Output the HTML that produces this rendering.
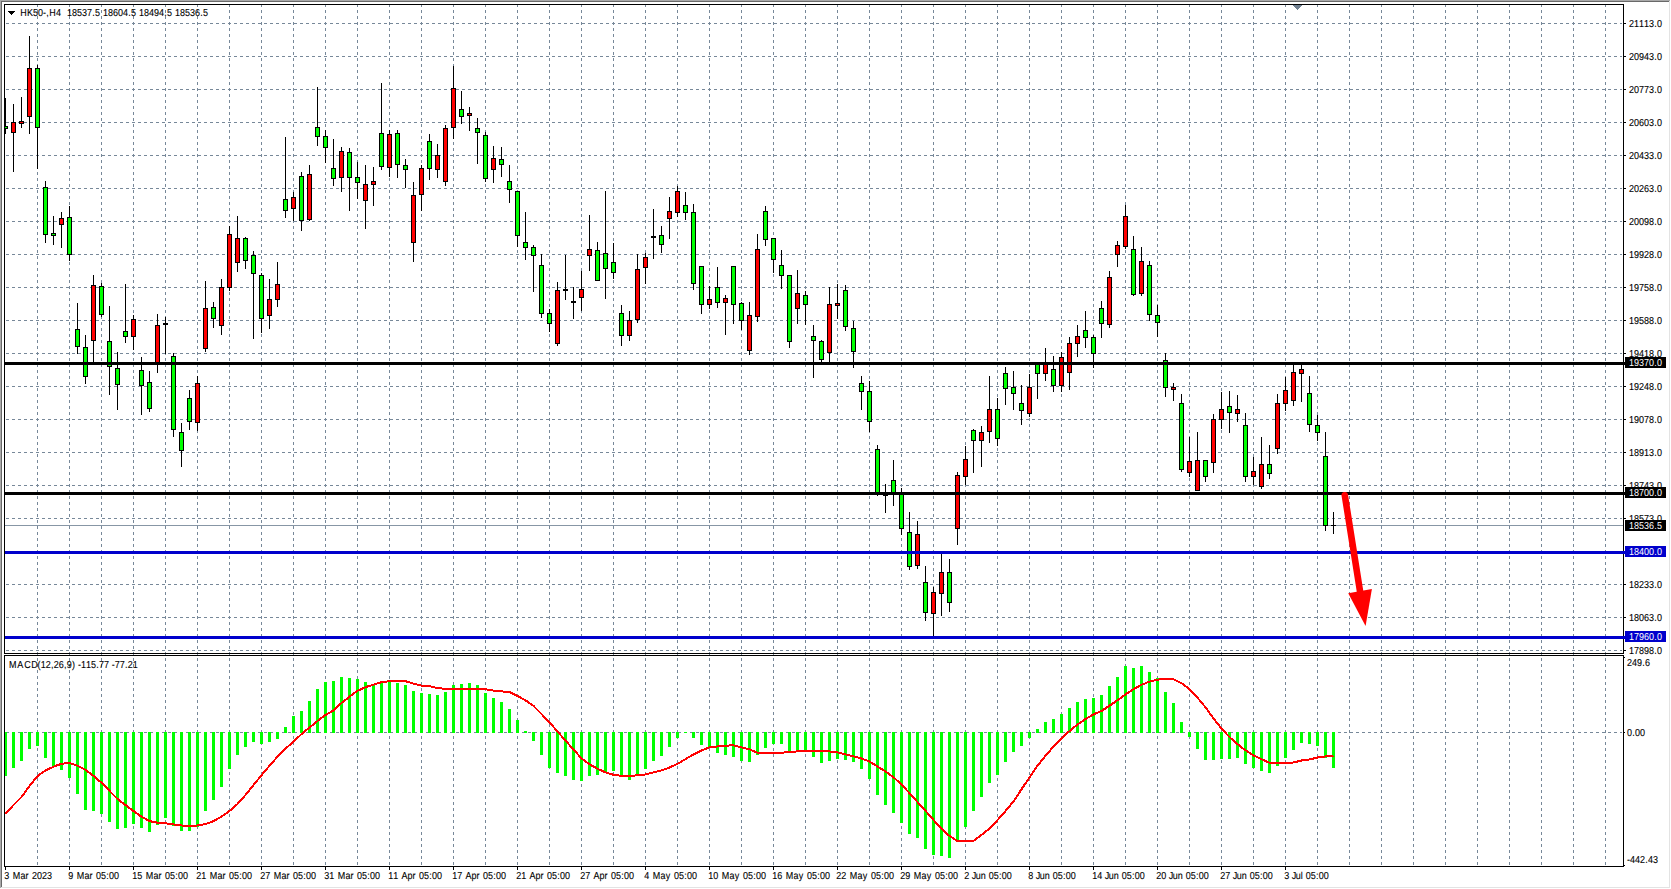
<!DOCTYPE html><html><head><meta charset="utf-8"><title>HK50 H4</title>
<style>html,body{margin:0;padding:0;background:#fff;overflow:hidden}svg{display:block}text{font-family:"Liberation Sans",sans-serif;font-size:9.0px;fill:#000;stroke:#000;stroke-width:0.1px;text-rendering:geometricPrecision}</style></head><body>
<svg width="1671" height="889" viewBox="0 0 1671 889">
<rect width="1671" height="889" fill="#fff"/>
<defs><clipPath id="cm"><rect x="5" y="5" width="1617" height="648"/></clipPath>
<clipPath id="cd"><rect x="5" y="656" width="1617" height="210"/></clipPath></defs>
<g shape-rendering="crispEdges" stroke="#778899" stroke-width="1" stroke-dasharray="3 3" fill="none">
<g clip-path="url(#cm)">
<line x1="0" y1="23.5" x2="1623" y2="23.5"/>
<line x1="0" y1="56.5" x2="1623" y2="56.5"/>
<line x1="0" y1="89.5" x2="1623" y2="89.5"/>
<line x1="0" y1="122.5" x2="1623" y2="122.5"/>
<line x1="0" y1="155.5" x2="1623" y2="155.5"/>
<line x1="0" y1="188.5" x2="1623" y2="188.5"/>
<line x1="0" y1="221.5" x2="1623" y2="221.5"/>
<line x1="0" y1="254.5" x2="1623" y2="254.5"/>
<line x1="0" y1="287.5" x2="1623" y2="287.5"/>
<line x1="0" y1="320.5" x2="1623" y2="320.5"/>
<line x1="0" y1="353.5" x2="1623" y2="353.5"/>
<line x1="0" y1="386.5" x2="1623" y2="386.5"/>
<line x1="0" y1="419.5" x2="1623" y2="419.5"/>
<line x1="0" y1="452.5" x2="1623" y2="452.5"/>
<line x1="0" y1="485.5" x2="1623" y2="485.5"/>
<line x1="0" y1="518.5" x2="1623" y2="518.5"/>
<line x1="0" y1="551.5" x2="1623" y2="551.5"/>
<line x1="0" y1="584.5" x2="1623" y2="584.5"/>
<line x1="0" y1="617.5" x2="1623" y2="617.5"/>
<line x1="0" y1="650.5" x2="1623" y2="650.5"/>
</g>
<path d="M37.5 4V866M69.5 4V866M101.5 4V866M133.5 4V866M165.5 4V866M197.5 4V866M229.5 4V866M261.5 4V866M293.5 4V866M325.5 4V866M357.5 4V866M389.5 4V866M421.5 4V866M453.5 4V866M485.5 4V866M517.5 4V866M549.5 4V866M581.5 4V866M613.5 4V866M645.5 4V866M677.5 4V866M709.5 4V866M741.5 4V866M773.5 4V866M805.5 4V866M837.5 4V866M869.5 4V866M901.5 4V866M933.5 4V866M965.5 4V866M997.5 4V866M1029.5 4V866M1061.5 4V866M1093.5 4V866M1125.5 4V866M1157.5 4V866M1189.5 4V866M1221.5 4V866M1253.5 4V866M1285.5 4V866M1317.5 4V866M1349.5 4V866M1381.5 4V866M1413.5 4V866M1445.5 4V866M1477.5 4V866M1509.5 4V866M1541.5 4V866M1573.5 4V866M1605.5 4V866"/>
<line x1="0" y1="732.5" x2="1623" y2="732.5" clip-path="url(#cd)"/>
</g>
<rect x="5" y="525" width="1618" height="1" fill="#8796a5" shape-rendering="crispEdges"/>
<g clip-path="url(#cm)" shape-rendering="crispEdges">
<path d="M5 98h1v36h-1zM3 126h5v3h-5zM13 104h1v68h-1zM11 122h5v11h-5zM21 97h1v31h-1zM19 121h5v3h-5zM29 36h1v98h-1zM27 68h5v49h-5zM37 65h1v104h-1zM35 68h5v60h-5zM45 181h1v62h-1zM43 187h5v48h-5zM53 216h1v29h-1zM51 233h5v3h-5zM61 212h1v36h-1zM59 218h5v7h-5zM69 206h1v55h-1zM67 217h5v38h-5zM77 303h1v51h-1zM75 329h5v18h-5zM85 335h1v49h-1zM83 347h5v30h-5zM93 275h1v89h-1zM91 285h5v56h-5zM101 283h1v34h-1zM99 286h5v29h-5zM109 306h1v89h-1zM107 341h5v26h-5zM117 352h1v58h-1zM115 368h5v17h-5zM125 284h1v59h-1zM123 331h5v6h-5zM133 315h1v35h-1zM131 319h5v18h-5zM141 357h1v58h-1zM139 370h5v16h-5zM149 371h1v41h-1zM147 382h5v27h-5zM157 314h1v59h-1zM155 325h5v40h-5zM165 317h1v37h-1zM163 323h5v2h-5zM173 353h1v84h-1zM171 356h5v74h-5zM181 423h1v44h-1zM179 432h5v19h-5zM189 390h1v40h-1zM187 398h5v24h-5zM197 376h1v55h-1zM195 383h5v40h-5zM205 281h1v71h-1zM203 308h5v41h-5zM213 302h1v26h-1zM211 307h5v12h-5zM221 279h1v56h-1zM219 287h5v39h-5zM229 226h1v65h-1zM227 234h5v54h-5zM237 216h1v56h-1zM235 238h5v25h-5zM245 237h1v32h-1zM243 238h5v23h-5zM253 251h1v88h-1zM251 255h5v19h-5zM261 273h1v60h-1zM259 275h5v44h-5zM269 279h1v50h-1zM267 299h5v17h-5zM277 262h1v45h-1zM275 284h5v16h-5zM285 137h1v81h-1zM283 199h5v12h-5zM293 192h1v29h-1zM291 197h5v12h-5zM301 172h1v59h-1zM299 176h5v45h-5zM309 165h1v56h-1zM307 174h5v46h-5zM317 87h1v59h-1zM315 127h5v10h-5zM325 130h1v33h-1zM323 136h5v12h-5zM333 139h1v47h-1zM331 168h5v11h-5zM341 147h1v45h-1zM339 151h5v27h-5zM349 148h1v63h-1zM347 152h5v26h-5zM357 162h1v37h-1zM355 177h5v6h-5zM365 165h1v64h-1zM363 184h5v17h-5zM373 167h1v39h-1zM371 181h5v4h-5zM381 83h1v87h-1zM379 133h5v34h-5zM389 130h1v47h-1zM387 134h5v34h-5zM397 130h1v48h-1zM395 133h5v32h-5zM405 159h1v29h-1zM403 165h5v5h-5zM413 182h1v80h-1zM411 195h5v48h-5zM421 165h1v46h-1zM419 168h5v27h-5zM429 134h1v46h-1zM427 141h5v28h-5zM437 144h1v34h-1zM435 155h5v15h-5zM445 125h1v61h-1zM443 128h5v54h-5zM453 66h1v73h-1zM451 88h5v40h-5zM461 91h1v33h-1zM459 109h5v8h-5zM469 107h1v24h-1zM467 113h5v3h-5zM477 118h1v46h-1zM475 128h5v5h-5zM485 132h1v50h-1zM483 135h5v44h-5zM493 146h1v37h-1zM491 158h5v12h-5zM501 147h1v30h-1zM499 159h5v6h-5zM509 165h1v38h-1zM507 181h5v9h-5zM517 191h1v56h-1zM515 191h5v45h-5zM525 212h1v48h-1zM523 242h5v6h-5zM533 245h1v47h-1zM531 247h5v9h-5zM541 254h1v64h-1zM539 265h5v49h-5zM549 309h1v23h-1zM547 313h5v11h-5zM557 282h1v64h-1zM555 290h5v54h-5zM565 255h1v45h-1zM563 289h5v2h-5zM573 287h1v32h-1zM571 301h5v2h-5zM581 271h1v40h-1zM579 289h5v9h-5zM589 215h1v56h-1zM587 249h5v7h-5zM597 242h1v39h-1zM595 250h5v31h-5zM605 191h1v108h-1zM603 253h5v16h-5zM613 243h1v36h-1zM611 262h5v11h-5zM621 305h1v41h-1zM619 313h5v23h-5zM629 311h1v30h-1zM627 320h5v16h-5zM637 254h1v69h-1zM635 269h5v51h-5zM645 253h1v31h-1zM643 257h5v11h-5zM653 209h1v50h-1zM651 236h5v2h-5zM661 226h1v27h-1zM659 235h5v10h-5zM669 197h1v42h-1zM667 211h5v8h-5zM677 186h1v31h-1zM675 191h5v22h-5zM685 192h1v28h-1zM683 205h5v8h-5zM693 204h1v86h-1zM691 212h5v72h-5zM701 266h1v48h-1zM699 266h5v39h-5zM709 286h1v23h-1zM707 299h5v6h-5zM717 267h1v41h-1zM715 287h5v16h-5zM725 295h1v40h-1zM723 298h5v5h-5zM733 266h1v58h-1zM731 266h5v39h-5zM741 302h1v28h-1zM739 303h5v18h-5zM749 302h1v53h-1zM747 315h5v36h-5zM757 234h1v88h-1zM755 249h5v68h-5zM765 206h1v40h-1zM763 211h5v29h-5zM773 238h1v35h-1zM771 238h5v22h-5zM781 250h1v39h-1zM779 265h5v11h-5zM789 275h1v73h-1zM787 275h5v67h-5zM797 270h1v54h-1zM795 293h5v16h-5zM805 291h1v34h-1zM803 295h5v10h-5zM813 325h1v53h-1zM811 336h5v5h-5zM821 340h1v23h-1zM819 341h5v19h-5zM829 287h1v76h-1zM827 304h5v49h-5zM837 284h1v35h-1zM835 303h5v3h-5zM845 285h1v46h-1zM843 290h5v37h-5zM853 321h1v47h-1zM851 328h5v24h-5zM861 376h1v34h-1zM859 383h5v9h-5zM869 381h1v51h-1zM867 391h5v31h-5zM877 445h1v51h-1zM875 449h5v45h-5zM885 484h1v29h-1zM883 494h5v2h-5zM893 460h1v46h-1zM891 480h5v14h-5zM901 488h1v47h-1zM899 492h5v37h-5zM909 512h1v58h-1zM907 532h5v35h-5zM917 521h1v48h-1zM915 534h5v32h-5zM925 566h1v55h-1zM923 582h5v31h-5zM933 587h1v50h-1zM931 592h5v22h-5zM941 552h1v64h-1zM939 572h5v22h-5zM949 559h1v53h-1zM947 572h5v31h-5zM957 472h1v73h-1zM955 475h5v54h-5zM965 446h1v39h-1zM963 459h5v18h-5zM973 429h1v44h-1zM971 430h5v11h-5zM981 426h1v41h-1zM979 432h5v9h-5zM989 376h1v67h-1zM987 409h5v23h-5zM997 398h1v48h-1zM995 409h5v30h-5zM1005 367h1v38h-1zM1003 373h5v16h-5zM1013 371h1v39h-1zM1011 387h5v7h-5zM1021 385h1v40h-1zM1019 403h5v8h-5zM1029 374h1v43h-1zM1027 387h5v27h-5zM1037 362h1v37h-1zM1035 362h5v12h-5zM1045 348h1v33h-1zM1043 364h5v10h-5zM1053 356h1v36h-1zM1051 369h5v17h-5zM1061 352h1v40h-1zM1059 357h5v29h-5zM1069 337h1v53h-1zM1067 343h5v30h-5zM1077 325h1v32h-1zM1075 336h5v8h-5zM1085 311h1v37h-1zM1083 330h5v8h-5zM1093 335h1v33h-1zM1091 337h5v17h-5zM1101 301h1v37h-1zM1099 308h5v16h-5zM1109 271h1v57h-1zM1107 277h5v48h-5zM1117 241h1v26h-1zM1115 245h5v10h-5zM1125 205h1v44h-1zM1123 216h5v31h-5zM1133 236h1v60h-1zM1131 249h5v46h-5zM1141 247h1v49h-1zM1139 261h5v33h-5zM1149 261h1v60h-1zM1147 265h5v50h-5zM1157 305h1v32h-1zM1155 315h5v8h-5zM1165 353h1v44h-1zM1163 360h5v28h-5zM1173 383h1v18h-1zM1171 387h5v3h-5zM1181 394h1v78h-1zM1179 403h5v67h-5zM1189 437h1v40h-1zM1187 461h5v12h-5zM1197 432h1v59h-1zM1195 460h5v31h-5zM1205 460h1v22h-1zM1203 460h5v17h-5zM1213 414h1v59h-1zM1211 419h5v44h-5zM1221 392h1v37h-1zM1219 409h5v11h-5zM1229 391h1v42h-1zM1227 406h5v7h-5zM1237 395h1v27h-1zM1235 409h5v5h-5zM1245 413h1v69h-1zM1243 425h5v52h-5zM1253 457h1v28h-1zM1251 471h5v6h-5zM1261 437h1v52h-1zM1259 464h5v23h-5zM1269 445h1v34h-1zM1267 464h5v10h-5zM1277 394h1v60h-1zM1275 403h5v46h-5zM1285 377h1v34h-1zM1283 390h5v14h-5zM1293 365h1v41h-1zM1291 372h5v29h-5zM1301 365h1v37h-1zM1299 369h5v5h-5zM1309 376h1v56h-1zM1307 393h5v32h-5zM1317 415h1v26h-1zM1315 425h5v8h-5zM1325 432h1v99h-1zM1323 456h5v70h-5zM1333 512h1v22h-1zM1331 525h5v1h-5z" fill="#000"/>
<path d="M4 127h3v1h-3zM36 69h3v58h-3zM44 188h3v46h-3zM52 234h3v1h-3zM68 218h3v36h-3zM76 330h3v16h-3zM84 348h3v28h-3zM100 287h3v27h-3zM108 342h3v24h-3zM116 369h3v15h-3zM124 332h3v4h-3zM140 371h3v14h-3zM148 383h3v25h-3zM172 357h3v72h-3zM180 433h3v17h-3zM188 399h3v22h-3zM212 308h3v10h-3zM244 239h3v21h-3zM252 256h3v17h-3zM260 276h3v42h-3zM284 200h3v10h-3zM300 177h3v43h-3zM316 128h3v8h-3zM324 137h3v10h-3zM332 169h3v9h-3zM348 153h3v24h-3zM356 178h3v4h-3zM380 134h3v32h-3zM396 134h3v30h-3zM404 166h3v3h-3zM428 142h3v26h-3zM460 110h3v6h-3zM476 129h3v3h-3zM484 136h3v42h-3zM500 160h3v4h-3zM508 182h3v7h-3zM516 192h3v43h-3zM524 243h3v4h-3zM532 248h3v7h-3zM540 266h3v47h-3zM548 314h3v9h-3zM596 251h3v29h-3zM604 254h3v14h-3zM612 263h3v9h-3zM620 314h3v21h-3zM660 236h3v8h-3zM684 206h3v6h-3zM692 213h3v70h-3zM700 267h3v37h-3zM716 288h3v14h-3zM732 267h3v37h-3zM740 304h3v16h-3zM764 212h3v27h-3zM772 239h3v20h-3zM780 266h3v9h-3zM788 276h3v65h-3zM804 296h3v8h-3zM812 337h3v3h-3zM820 342h3v17h-3zM844 291h3v35h-3zM852 329h3v22h-3zM860 384h3v7h-3zM868 392h3v29h-3zM876 450h3v43h-3zM892 481h3v12h-3zM900 493h3v35h-3zM908 533h3v33h-3zM924 583h3v29h-3zM948 573h3v29h-3zM972 431h3v9h-3zM996 410h3v28h-3zM1004 374h3v14h-3zM1012 388h3v5h-3zM1020 404h3v6h-3zM1036 363h3v10h-3zM1052 370h3v15h-3zM1084 331h3v6h-3zM1092 338h3v15h-3zM1100 309h3v14h-3zM1132 250h3v44h-3zM1148 266h3v48h-3zM1156 316h3v6h-3zM1164 361h3v26h-3zM1180 404h3v65h-3zM1204 461h3v15h-3zM1228 407h3v5h-3zM1244 426h3v50h-3zM1268 465h3v8h-3zM1308 394h3v30h-3zM1316 426h3v6h-3zM1324 457h3v68h-3z" fill="#00ff00"/>
<path d="M12 123h3v9h-3zM20 122h3v1h-3zM28 69h3v47h-3zM60 219h3v5h-3zM92 286h3v54h-3zM132 320h3v16h-3zM156 326h3v38h-3zM196 384h3v38h-3zM204 309h3v39h-3zM220 288h3v37h-3zM228 235h3v52h-3zM236 239h3v23h-3zM268 300h3v15h-3zM276 285h3v14h-3zM292 198h3v10h-3zM308 175h3v44h-3zM340 152h3v25h-3zM364 185h3v15h-3zM372 182h3v2h-3zM388 135h3v32h-3zM412 196h3v46h-3zM420 169h3v25h-3zM436 156h3v13h-3zM444 129h3v52h-3zM452 89h3v38h-3zM468 114h3v1h-3zM492 159h3v10h-3zM556 291h3v52h-3zM580 290h3v7h-3zM588 250h3v5h-3zM628 321h3v14h-3zM636 270h3v49h-3zM644 258h3v9h-3zM668 212h3v6h-3zM676 192h3v20h-3zM708 300h3v4h-3zM724 299h3v3h-3zM748 316h3v34h-3zM756 250h3v66h-3zM796 294h3v14h-3zM828 305h3v47h-3zM836 304h3v1h-3zM916 535h3v30h-3zM932 593h3v20h-3zM940 573h3v20h-3zM956 476h3v52h-3zM964 460h3v16h-3zM980 433h3v7h-3zM988 410h3v21h-3zM1028 388h3v25h-3zM1044 365h3v8h-3zM1060 358h3v27h-3zM1068 344h3v28h-3zM1076 337h3v6h-3zM1108 278h3v46h-3zM1116 246h3v8h-3zM1124 217h3v29h-3zM1140 262h3v31h-3zM1172 388h3v1h-3zM1188 462h3v10h-3zM1196 461h3v29h-3zM1212 420h3v42h-3zM1220 410h3v9h-3zM1236 410h3v3h-3zM1252 472h3v4h-3zM1260 465h3v21h-3zM1276 404h3v44h-3zM1284 391h3v12h-3zM1292 373h3v27h-3zM1300 370h3v3h-3z" fill="#ff0000"/>
</g>
<g shape-rendering="crispEdges">
<rect x="5" y="362" width="1620" height="3" fill="#000"/>
<rect x="5" y="492" width="1620" height="3" fill="#000"/>
<rect x="5" y="551" width="1620" height="3" fill="#0000cc"/>
<rect x="5" y="636" width="1620" height="3" fill="#0000cc"/>
</g>
<g clip-path="url(#cd)">
<path d="M4 732h3v44h-3zM12 732h3v36h-3zM20 732h3v29h-3zM28 732h3v17h-3zM36 732h3v14h-3zM44 732h3v26h-3zM52 732h3v34h-3zM60 732h3v38h-3zM68 732h3v46h-3zM76 732h3v62h-3zM84 732h3v78h-3zM92 732h3v79h-3zM100 732h3v82h-3zM108 732h3v90h-3zM116 732h3v97h-3zM124 732h3v96h-3zM132 732h3v92h-3zM140 732h3v96h-3zM148 732h3v100h-3zM156 732h3v93h-3zM164 732h3v86h-3zM172 732h3v94h-3zM180 732h3v99h-3zM188 732h3v99h-3zM196 732h3v95h-3zM204 732h3v79h-3zM212 732h3v68h-3zM220 732h3v55h-3zM228 732h3v37h-3zM236 732h3v23h-3zM244 732h3v15h-3zM252 732h3v10h-3zM260 732h3v12h-3zM268 732h3v10h-3zM276 732h3v7h-3zM284 727h3v6h-3zM292 716h3v17h-3zM300 711h3v22h-3zM308 701h3v32h-3zM316 689h3v44h-3zM324 682h3v51h-3zM332 681h3v52h-3zM340 677h3v56h-3zM348 678h3v55h-3zM356 679h3v54h-3zM364 682h3v51h-3zM372 685h3v48h-3zM380 683h3v50h-3zM388 682h3v51h-3zM396 683h3v50h-3zM404 685h3v48h-3zM412 691h3v42h-3zM420 693h3v40h-3zM428 694h3v39h-3zM436 695h3v38h-3zM444 692h3v41h-3zM452 685h3v48h-3zM460 684h3v49h-3zM468 683h3v50h-3zM476 685h3v48h-3zM484 693h3v40h-3zM492 698h3v35h-3zM500 702h3v31h-3zM508 709h3v24h-3zM516 720h3v13h-3zM524 731h3v2h-3zM532 732h3v9h-3zM540 732h3v23h-3zM548 732h3v36h-3zM556 732h3v41h-3zM564 732h3v44h-3zM572 732h3v48h-3zM580 732h3v49h-3zM588 732h3v44h-3zM596 732h3v43h-3zM604 732h3v40h-3zM612 732h3v39h-3zM620 732h3v45h-3zM628 732h3v48h-3zM636 732h3v42h-3zM644 732h3v37h-3zM652 732h3v29h-3zM660 732h3v24h-3zM668 732h3v15h-3zM676 732h3v6h-3zM684 732h3v1h-3zM692 732h3v6h-3zM700 732h3v13h-3zM708 732h3v15h-3zM716 732h3v21h-3zM724 732h3v23h-3zM732 732h3v25h-3zM740 732h3v29h-3zM748 732h3v30h-3zM756 732h3v23h-3zM764 732h3v16h-3zM772 732h3v12h-3zM780 732h3v12h-3zM788 732h3v20h-3zM796 732h3v20h-3zM804 732h3v19h-3zM812 732h3v25h-3zM820 732h3v31h-3zM828 732h3v29h-3zM836 732h3v27h-3zM844 732h3v28h-3zM852 732h3v30h-3zM860 732h3v37h-3zM868 732h3v47h-3zM876 732h3v63h-3zM884 732h3v73h-3zM892 732h3v81h-3zM900 732h3v91h-3zM908 732h3v102h-3zM916 732h3v106h-3zM924 732h3v117h-3zM932 732h3v123h-3zM940 732h3v124h-3zM948 732h3v126h-3zM956 732h3v110h-3zM964 732h3v95h-3zM972 732h3v79h-3zM980 732h3v65h-3zM988 732h3v51h-3zM996 732h3v43h-3zM1004 732h3v30h-3zM1012 732h3v20h-3zM1020 732h3v14h-3zM1028 732h3v6h-3zM1036 729h3v4h-3zM1044 722h3v11h-3zM1052 719h3v14h-3zM1060 714h3v19h-3zM1068 708h3v25h-3zM1076 702h3v31h-3zM1084 699h3v34h-3zM1092 698h3v35h-3zM1100 695h3v38h-3zM1108 686h3v47h-3zM1116 677h3v56h-3zM1124 666h3v67h-3zM1132 668h3v65h-3zM1140 666h3v67h-3zM1148 672h3v61h-3zM1156 678h3v55h-3zM1164 692h3v41h-3zM1172 703h3v30h-3zM1180 722h3v11h-3zM1188 732h3v5h-3zM1196 732h3v17h-3zM1204 732h3v28h-3zM1212 732h3v28h-3zM1220 732h3v27h-3zM1228 732h3v27h-3zM1236 732h3v26h-3zM1244 732h3v32h-3zM1252 732h3v36h-3zM1260 732h3v39h-3zM1268 732h3v41h-3zM1276 732h3v34h-3zM1284 732h3v26h-3zM1292 732h3v18h-3zM1300 732h3v11h-3zM1308 732h3v12h-3zM1316 732h3v14h-3zM1324 732h3v26h-3zM1332 732h3v36h-3z" fill="#00ff00" shape-rendering="crispEdges"/>
<polyline points="5.5,814 13.5,805 21.5,797 29.5,786 37.5,776 45.5,770.4 53.5,766.7 61.5,763.7 69.5,763.1 77.5,765.7 85.5,769.8 93.5,775.8 101.5,782.8 109.5,790.9 117.5,799 125.5,805 133.5,811 141.5,816.7 149.5,821.1 157.5,822.7 165.5,823.3 173.5,824.5 181.5,825.5 189.5,825.7 197.5,825.5 205.5,824.1 213.5,821.1 221.5,816.7 229.5,811 237.5,804 245.5,795 253.5,785 261.5,775.2 269.5,765.7 277.5,756.7 285.5,748.6 293.5,741.6 301.5,734.1 309.5,727.5 317.5,721 325.5,715 333.5,710.5 341.5,703 349.5,696.7 357.5,690.8 365.5,687.2 373.5,684.6 381.5,682.2 389.5,681.2 397.5,680.8 405.5,681.2 413.5,683.6 421.5,685.6 429.5,686.2 437.5,688.2 445.5,688.8 453.5,688.8 461.5,688.8 469.5,688.8 477.5,688.8 485.5,689.2 493.5,690.6 501.5,691.4 509.5,692 517.5,695.9 525.5,700.3 533.5,705.9 541.5,714 549.5,722.4 557.5,731.5 565.5,740.6 573.5,749.6 581.5,758.3 589.5,764.3 597.5,768.7 605.5,772.4 613.5,774.8 621.5,775.8 629.5,775.8 637.5,775.4 645.5,774.4 653.5,772.4 661.5,770.4 669.5,767.5 677.5,763.9 685.5,759.1 693.5,754.4 701.5,750.4 709.5,747.4 717.5,746.4 725.5,745.6 733.5,745.4 741.5,747.4 749.5,749.4 757.5,752.8 765.5,753 773.5,753 781.5,752.8 789.5,752 797.5,751.4 805.5,750.8 813.5,750.8 821.5,750.8 829.5,751.4 837.5,752.4 845.5,754.4 853.5,756.4 861.5,758.5 869.5,761.5 877.5,766.5 885.5,771.5 893.5,777.2 901.5,784.6 909.5,793.1 917.5,802.1 925.5,810.8 933.5,819.9 941.5,828.9 949.5,836 957.5,841 965.5,841 973.5,840.8 981.5,835 989.5,828.5 997.5,820.1 1005.5,811 1013.5,801.4 1021.5,789.3 1029.5,777.4 1037.5,765.7 1045.5,755.7 1053.5,746.6 1061.5,738.1 1069.5,731.1 1077.5,724.5 1085.5,719 1093.5,714.4 1101.5,711 1109.5,705.7 1117.5,700.3 1125.5,694.3 1133.5,689.2 1141.5,684.8 1149.5,681.6 1157.5,679.6 1165.5,679.2 1173.5,679.2 1181.5,683.2 1189.5,689.2 1197.5,697.7 1205.5,707.3 1213.5,718.4 1221.5,728.5 1229.5,737.1 1237.5,744.2 1245.5,750.3 1253.5,755.4 1261.5,759.3 1269.5,762.7 1277.5,763 1285.5,763 1293.5,762.5 1301.5,760.5 1309.5,759.5 1317.5,757.5 1325.5,756.5 1333.5,755.8" fill="none" stroke="#ff0000" stroke-width="2" stroke-linejoin="round" shape-rendering="crispEdges"/>
</g>
<g shape-rendering="crispEdges" fill="#000">
<rect x="4" y="4" width="1620" height="1"/>
<rect x="4" y="4" width="1" height="863"/>
<rect x="1623" y="4" width="1" height="863"/>
<rect x="4" y="866" width="1620" height="1"/>
<rect x="4" y="653" width="1620" height="1"/>
<rect x="4" y="655" width="1620" height="1"/>
<rect x="4" y="654" width="1" height="1" fill="#fff"/>
<rect x="1623" y="654" width="1" height="1" fill="#fff"/>
<rect x="1624" y="23" width="2" height="1"/>
<rect x="1624" y="56" width="2" height="1"/>
<rect x="1624" y="89" width="2" height="1"/>
<rect x="1624" y="122" width="2" height="1"/>
<rect x="1624" y="155" width="2" height="1"/>
<rect x="1624" y="188" width="2" height="1"/>
<rect x="1624" y="221" width="2" height="1"/>
<rect x="1624" y="254" width="2" height="1"/>
<rect x="1624" y="287" width="2" height="1"/>
<rect x="1624" y="320" width="2" height="1"/>
<rect x="1624" y="353" width="2" height="1"/>
<rect x="1624" y="386" width="2" height="1"/>
<rect x="1624" y="419" width="2" height="1"/>
<rect x="1624" y="452" width="2" height="1"/>
<rect x="1624" y="485" width="2" height="1"/>
<rect x="1624" y="518" width="2" height="1"/>
<rect x="1624" y="551" width="2" height="1"/>
<rect x="1624" y="584" width="2" height="1"/>
<rect x="1624" y="617" width="2" height="1"/>
<rect x="1624" y="650" width="2" height="1"/>
<rect x="1624" y="732" width="1" height="1"/>
<rect x="1624" y="657" width="1" height="1"/>
<rect x="1624" y="865" width="1" height="1"/>
<rect x="5" y="867" width="1" height="3"/>
<rect x="69" y="867" width="1" height="3"/>
<rect x="133" y="867" width="1" height="3"/>
<rect x="197" y="867" width="1" height="3"/>
<rect x="261" y="867" width="1" height="3"/>
<rect x="325" y="867" width="1" height="3"/>
<rect x="389" y="867" width="1" height="3"/>
<rect x="453" y="867" width="1" height="3"/>
<rect x="517" y="867" width="1" height="3"/>
<rect x="581" y="867" width="1" height="3"/>
<rect x="645" y="867" width="1" height="3"/>
<rect x="709" y="867" width="1" height="3"/>
<rect x="773" y="867" width="1" height="3"/>
<rect x="837" y="867" width="1" height="3"/>
<rect x="901" y="867" width="1" height="3"/>
<rect x="965" y="867" width="1" height="3"/>
<rect x="1029" y="867" width="1" height="3"/>
<rect x="1093" y="867" width="1" height="3"/>
<rect x="1157" y="867" width="1" height="3"/>
<rect x="1221" y="867" width="1" height="3"/>
<rect x="1285" y="867" width="1" height="3"/>
<path d="M8 11h7v1h-1v1h-1v1h-1v1h-1v-1h-1v-1h-1v-1h-1z"/>
<path d="M1293 5h9v1h-1v1h-1v1h-1v1h-1v1h-1v-1h-1v-1h-1v-1h-1v-1h-1z" fill="#708090"/>
</g>
<g shape-rendering="crispEdges">
<rect x="1622" y="362" width="3" height="3" fill="#000"/>
<rect x="1622" y="492" width="3" height="3" fill="#000"/>
<rect x="1622" y="551" width="3" height="3" fill="#0000cc"/>
<rect x="1622" y="636" width="3" height="3" fill="#0000cc"/>
</g>
<line x1="1344.8" y1="495.3" x2="1360.3" y2="593" stroke="#ff0000" stroke-width="6.6" stroke-linecap="round"/>
<polygon points="1348.2,593.2 1371.9,589.1 1365.6,626.1" fill="#ff0000"/>
<text transform="matrix(1.0 0 0 1.12 0 -3.240)" x="1629.00 1634.00 1639.00 1644.00 1649.00 1654.25 1657.00" y="27">21113.0</text>
<text transform="matrix(1.0 0 0 1.12 0 -7.200)" x="1629.00 1634.00 1639.00 1644.00 1649.00 1654.25 1657.00" y="60">20943.0</text>
<text transform="matrix(1.0 0 0 1.12 0 -11.160)" x="1629.00 1634.00 1639.00 1644.00 1649.00 1654.25 1657.00" y="93">20773.0</text>
<text transform="matrix(1.0 0 0 1.12 0 -15.120)" x="1629.00 1634.00 1639.00 1644.00 1649.00 1654.25 1657.00" y="126">20603.0</text>
<text transform="matrix(1.0 0 0 1.12 0 -19.080)" x="1629.00 1634.00 1639.00 1644.00 1649.00 1654.25 1657.00" y="159">20433.0</text>
<text transform="matrix(1.0 0 0 1.12 0 -23.040)" x="1629.00 1634.00 1639.00 1644.00 1649.00 1654.25 1657.00" y="192">20263.0</text>
<text transform="matrix(1.0 0 0 1.12 0 -27.000)" x="1629.00 1634.00 1639.00 1644.00 1649.00 1654.25 1657.00" y="225">20098.0</text>
<text transform="matrix(1.0 0 0 1.12 0 -30.960)" x="1629.00 1634.00 1639.00 1644.00 1649.00 1654.25 1657.00" y="258">19928.0</text>
<text transform="matrix(1.0 0 0 1.12 0 -34.920)" x="1629.00 1634.00 1639.00 1644.00 1649.00 1654.25 1657.00" y="291">19758.0</text>
<text transform="matrix(1.0 0 0 1.12 0 -38.880)" x="1629.00 1634.00 1639.00 1644.00 1649.00 1654.25 1657.00" y="324">19588.0</text>
<text transform="matrix(1.0 0 0 1.12 0 -42.840)" x="1629.00 1634.00 1639.00 1644.00 1649.00 1654.25 1657.00" y="357">19418.0</text>
<text transform="matrix(1.0 0 0 1.12 0 -46.800)" x="1629.00 1634.00 1639.00 1644.00 1649.00 1654.25 1657.00" y="390">19248.0</text>
<text transform="matrix(1.0 0 0 1.12 0 -50.760)" x="1629.00 1634.00 1639.00 1644.00 1649.00 1654.25 1657.00" y="423">19078.0</text>
<text transform="matrix(1.0 0 0 1.12 0 -54.720)" x="1629.00 1634.00 1639.00 1644.00 1649.00 1654.25 1657.00" y="456">18913.0</text>
<text transform="matrix(1.0 0 0 1.12 0 -58.680)" x="1629.00 1634.00 1639.00 1644.00 1649.00 1654.25 1657.00" y="489">18743.0</text>
<text transform="matrix(1.0 0 0 1.12 0 -62.640)" x="1629.00 1634.00 1639.00 1644.00 1649.00 1654.25 1657.00" y="522">18573.0</text>
<text transform="matrix(1.0 0 0 1.12 0 -66.600)" x="1629.00 1634.00 1639.00 1644.00 1649.00 1654.25 1657.00" y="555">18403.0</text>
<text transform="matrix(1.0 0 0 1.12 0 -70.560)" x="1629.00 1634.00 1639.00 1644.00 1649.00 1654.25 1657.00" y="588">18233.0</text>
<text transform="matrix(1.0 0 0 1.12 0 -74.520)" x="1629.00 1634.00 1639.00 1644.00 1649.00 1654.25 1657.00" y="621">18063.0</text>
<text transform="matrix(1.0 0 0 1.12 0 -78.480)" x="1629.00 1634.00 1639.00 1644.00 1649.00 1654.25 1657.00" y="654">17898.0</text>
<rect x="1625" y="357" width="41" height="11" fill="#000" shape-rendering="crispEdges"/>
<text transform="matrix(1.0 0 0 1.12 0 -43.920)" x="1629.00 1634.00 1639.00 1644.00 1649.00 1654.25 1657.00" y="366" style="fill:#fff;stroke:none">19370.0</text>
<rect x="1625" y="487" width="41" height="11" fill="#000" shape-rendering="crispEdges"/>
<text transform="matrix(1.0 0 0 1.12 0 -59.520)" x="1629.00 1634.00 1639.00 1644.00 1649.00 1654.25 1657.00" y="496" style="fill:#fff;stroke:none">18700.0</text>
<rect x="1625" y="520" width="41" height="11" fill="#000" shape-rendering="crispEdges"/>
<text transform="matrix(1.0 0 0 1.12 0 -63.480)" x="1629.00 1634.00 1639.00 1644.00 1649.00 1654.25 1657.00" y="529" style="fill:#fff;stroke:none">18536.5</text>
<rect x="1625" y="546" width="41" height="11" fill="#0000cc" shape-rendering="crispEdges"/>
<text transform="matrix(1.0 0 0 1.12 0 -66.600)" x="1629.00 1634.00 1639.00 1644.00 1649.00 1654.25 1657.00" y="555" style="fill:#fff;stroke:none">18400.0</text>
<rect x="1625" y="631" width="41" height="11" fill="#0000cc" shape-rendering="crispEdges"/>
<text transform="matrix(1.0 0 0 1.12 0 -76.800)" x="1629.00 1634.00 1639.00 1644.00 1649.00 1654.25 1657.00" y="640" style="fill:#fff;stroke:none">17960.0</text>
<text transform="matrix(1.0 0 0 1.12 0 -79.920)" x="1627.00 1632.00 1637.00 1642.25 1645.00" y="666">249.6</text>
<text transform="matrix(1.0 0 0 1.12 0 -88.320)" x="1627.00 1632.25 1635.00 1640.00" y="736">0.00</text>
<text transform="matrix(1.0 0 0 1.12 0 -103.560)" x="1627.00 1630.00 1635.00 1640.00 1645.25 1648.00 1653.00" y="863">-442.43</text>
<text transform="matrix(1.0 0 0 1.12 0 -1.920)" x="20.25 27.00 33.00 38.00 43.00 46.25 49.25 56.00" y="16">HK50-,H4</text>
<text transform="matrix(1.0 0 0 1.12 0 -1.920)" x="67.00 72.00 77.00 82.00 87.00 92.25 95.00 100.25 103.00 108.00 113.00 118.00 123.00 128.25 131.00 136.25 139.00 144.00 149.00 154.00 159.00 164.25 167.00 172.25 175.00 180.00 185.00 190.00 195.00 200.25 203.00" y="16">18537.5 18604.5 18494.5 18536.5</text>
<text transform="matrix(1.0 0 0 1.12 0 -80.160)" x="8.95 17.35 24.25 31.25" y="668">MACD</text>
<text transform="matrix(1.0 0 0 1.12 0 -80.160)" x="37.45 40.70 45.70 50.95 53.70 58.70 63.95 66.70 71.95 75.35 78.00 81.00 86.00 91.00 96.25 99.00 104.00 109.15 111.80 114.80 119.80 125.05 127.80 132.80" y="668">(12,26,9) -115.77 -77.21</text>
<text transform="matrix(1.0 0 0 1.12 0 -105.480)" x="4.30 9.70 12.85 20.60 25.60 29.00 31.90 36.90 41.90 46.90" y="879">3 Mar 2023</text>
<text transform="matrix(1.0 0 0 1.12 0 -105.480)" x="68.30 73.70 76.85 84.60 89.60 93.00 95.90 100.90 106.15 108.90 113.90" y="879">9 Mar 05:00</text>
<text transform="matrix(1.0 0 0 1.12 0 -105.480)" x="132.30 137.30 142.70 145.85 153.60 158.60 162.00 164.90 169.90 175.15 177.90 182.90" y="879">15 Mar 05:00</text>
<text transform="matrix(1.0 0 0 1.12 0 -105.480)" x="196.30 201.30 206.70 209.85 217.60 222.60 226.00 228.90 233.90 239.15 241.90 246.90" y="879">21 Mar 05:00</text>
<text transform="matrix(1.0 0 0 1.12 0 -105.480)" x="260.30 265.30 270.70 273.85 281.60 286.60 290.00 292.90 297.90 303.15 305.90 310.90" y="879">27 Mar 05:00</text>
<text transform="matrix(1.0 0 0 1.12 0 -105.480)" x="324.30 329.30 334.70 337.85 345.60 350.60 354.00 356.90 361.90 367.15 369.90 374.90" y="879">31 Mar 05:00</text>
<text transform="matrix(1.0 0 0 1.12 0 -105.480)" x="388.30 393.30 398.70 401.60 407.60 412.60 416.00 418.90 423.90 429.15 431.90 436.90" y="879">11 Apr 05:00</text>
<text transform="matrix(1.0 0 0 1.12 0 -105.480)" x="452.30 457.30 462.70 465.60 471.60 476.60 480.00 482.90 487.90 493.15 495.90 500.90" y="879">17 Apr 05:00</text>
<text transform="matrix(1.0 0 0 1.12 0 -105.480)" x="516.30 521.30 526.70 529.60 535.60 540.60 544.00 546.90 551.90 557.15 559.90 564.90" y="879">21 Apr 05:00</text>
<text transform="matrix(1.0 0 0 1.12 0 -105.480)" x="580.30 585.30 590.70 593.60 599.60 604.60 608.00 610.90 615.90 621.15 623.90 628.90" y="879">27 Apr 05:00</text>
<text transform="matrix(1.0 0 0 1.12 0 -105.480)" x="644.30 649.70 652.85 660.60 665.85 671.00 673.90 678.90 684.15 686.90 691.90" y="879">4 May 05:00</text>
<text transform="matrix(1.0 0 0 1.12 0 -105.480)" x="708.30 713.30 718.70 721.85 729.60 734.85 740.00 742.90 747.90 753.15 755.90 760.90" y="879">10 May 05:00</text>
<text transform="matrix(1.0 0 0 1.12 0 -105.480)" x="772.30 777.30 782.70 785.85 793.60 798.85 804.00 806.90 811.90 817.15 819.90 824.90" y="879">16 May 05:00</text>
<text transform="matrix(1.0 0 0 1.12 0 -105.480)" x="836.30 841.30 846.70 849.85 857.60 862.85 868.00 870.90 875.90 881.15 883.90 888.90" y="879">22 May 05:00</text>
<text transform="matrix(1.0 0 0 1.12 0 -105.480)" x="900.30 905.30 910.70 913.85 921.60 926.85 932.00 934.90 939.90 945.15 947.90 952.90" y="879">29 May 05:00</text>
<text transform="matrix(1.0 0 0 1.12 0 -105.480)" x="964.30 969.55 971.80 975.80 980.80 986.05 988.80 993.80 999.05 1001.80 1006.80" y="879">2 Jun 05:00</text>
<text transform="matrix(1.0 0 0 1.12 0 -105.480)" x="1028.30 1033.55 1035.80 1039.80 1044.80 1050.05 1052.80 1057.80 1063.05 1065.80 1070.80" y="879">8 Jun 05:00</text>
<text transform="matrix(1.0 0 0 1.12 0 -105.480)" x="1092.30 1097.30 1102.55 1104.80 1108.80 1113.80 1119.05 1121.80 1126.80 1132.05 1134.80 1139.80" y="879">14 Jun 05:00</text>
<text transform="matrix(1.0 0 0 1.12 0 -105.480)" x="1156.30 1161.30 1166.55 1168.80 1172.80 1177.80 1183.05 1185.80 1190.80 1196.05 1198.80 1203.80" y="879">20 Jun 05:00</text>
<text transform="matrix(1.0 0 0 1.12 0 -105.480)" x="1220.30 1225.30 1230.55 1232.80 1236.80 1241.80 1247.05 1249.80 1254.80 1260.05 1262.80 1267.80" y="879">27 Jun 05:00</text>
<text transform="matrix(1.0 0 0 1.12 0 -105.480)" x="1284.30 1289.55 1291.80 1295.80 1300.80 1303.05 1305.80 1310.80 1316.05 1318.80 1323.80" y="879">3 Jul 05:00</text>
<g shape-rendering="crispEdges">
<rect x="0" y="0" width="1670" height="1" fill="#a9a9a9"/>
<rect x="0" y="0" width="1" height="888" fill="#a9a9a9"/>
<rect x="1" y="1" width="1668" height="1" fill="#696969"/>
<rect x="1" y="1" width="1" height="886" fill="#696969"/>
<rect x="1669" y="1" width="1" height="887" fill="#e3e3e3"/>
<rect x="1" y="887" width="1669" height="1" fill="#e3e3e3"/>
</g>
</svg></body></html>
